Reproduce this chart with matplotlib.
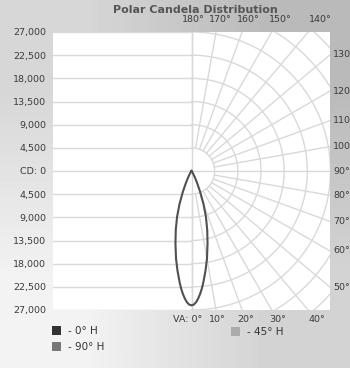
import numpy as np
import matplotlib
matplotlib.use('Agg')
import matplotlib.pyplot as plt
from matplotlib.patches import Rectangle

# vertical angle (deg) and candela values, same for all horizontal planes
angles = [0, 1, 2, 3, 4, 5, 6, 8, 10, 12.5, 15, 17.5, 20, 22.5, 25, 27.5, 30, 32.5, 35, 40]
candela = [26100, 25950, 25500, 24800, 23950, 22950, 21850, 19550, 17300, 14400, 11800,
           9300, 6800, 4400, 2600, 1500, 800, 400, 150, 0]

cd_ticks = list(range(-27000, 27001, 4500))
top_angles = [180, 170, 160, 150, 140]
right_angles = [130, 120, 110, 100, 90, 80, 70, 60, 50]
bottom_angles = [0, 10, 20, 30, 40]
legend_items = [('- 0° H', '#333333'), ('- 90° H', '#777777'), ('- 45° H', '#ababab')]

W, H = 350, 368
fig = plt.figure(figsize=(W / 100, H / 100), dpi=100)

# gradient background
bg = fig.add_axes([0, 0, 1, 1], zorder=0)
grad = np.array([[0.84, 0.73], [0.95, 0.83]])
bg.imshow(grad, cmap='gray', vmin=0, vmax=1, interpolation='bilinear',
          aspect='auto', extent=[0, 1, 0, 1])
bg.axis('off')

# plot area in pixels: x 53-330, y 32-310, centre (191.5, 171)
s = 27000 / 139.0
ax = fig.add_axes([53 / W, 1 - 310 / H, 277 / W, 278 / H], zorder=1)
ax.set_facecolor('white')
ax.set_xlim(-138.5 * s, 138.5 * s)
ax.set_ylim(-27000, 27000)
for sp in ax.spines.values():
    sp.set_visible(False)
ax.set_xticks([])
ax.set_yticks(cd_ticks)
ax.set_yticklabels(['CD: 0' if v == 0 else '{:,}'.format(abs(v)) for v in cd_ticks],
                   fontsize=6.8, color='#3a3a3a')
ax.tick_params(axis='y', length=0, pad=5)

gc = '#d9d9d9'
# horizontal grid on left half
for v in cd_ticks:
    ax.plot([-40000, 0], [v, v], color=gc, lw=1.0, zorder=1)
ax.axvline(0, color=gc, lw=1.0, zorder=1)
# radial lines
for a in range(0, 181, 10):
    t = np.radians(a)
    r0 = 0 if a == 90 else 4500
    ax.plot([r0 * np.sin(t), 45000 * np.sin(t)], [-r0 * np.cos(t), -45000 * np.cos(t)],
            color=gc, lw=1.0, zorder=1)
# circles on right half
tt = np.linspace(-np.pi / 2, np.pi / 2, 200)
for r in range(4500, 40501, 4500):
    ax.plot(r * np.cos(tt), r * np.sin(tt), color=gc, lw=1.0, zorder=1)

# candela curve, mirrored about the vertical axis
th = np.radians(np.array(angles))
cd = np.array(candela)
full_t = np.concatenate([-th[::-1], th[1:]])
full_r = np.concatenate([cd[::-1], cd[1:]])
ax.plot(full_r * np.sin(full_t), -full_r * np.cos(full_t), color='#505050', lw=1.5,
        zorder=3, solid_joinstyle='round')

# angle labels
lc = '#3a3a3a'
ytop = 151 * s
for a in top_angles:
    x = ytop * np.tan(np.radians(180 - a))
    ax.text(x + 2 * s, ytop, '{}°'.format(a), ha='center', va='center',
            fontsize=6.8, color=lc, clip_on=False)
ybot = -149 * s
for a in bottom_angles:
    x = -ybot * np.tan(np.radians(a))
    if a == 0:
        ax.text(11 * s, ybot, 'VA: 0°', ha='right', va='center', fontsize=6.8, color=lc, clip_on=False)
    else:
        ax.text(x, ybot, '{}°'.format(a), ha='center', va='center', fontsize=6.8, color=lc, clip_on=False)
for a in right_angles:
    t = np.radians(a)
    y = -138.5 * s * np.cos(t) / np.sin(t)
    ax.text(141.5 * s, y, '{}°'.format(a), ha='left', va='center', fontsize=6.8, color=lc, clip_on=False)

fig.text(195 / W, 1 - 10 / H, 'Polar Candela Distribution', ha='center', va='center',
         fontsize=8, fontweight='bold', color='#555555', family='DejaVu Sans')

# legend
pos = [(52, 326), (52, 342), (231, 327)]
for (label, col), (px, py) in zip(legend_items, pos):
    fig.add_artist(Rectangle((px / W, 1 - (py + 9) / H), 9 / W, 9 / H,
                             transform=fig.transFigure, facecolor=col, edgecolor='none'))
    fig.text((px + 16) / W, 1 - (py + 5) / H, label, ha='left', va='center',
             fontsize=7.5, color='#333333')

plt.savefig('out.png', dpi=100)
